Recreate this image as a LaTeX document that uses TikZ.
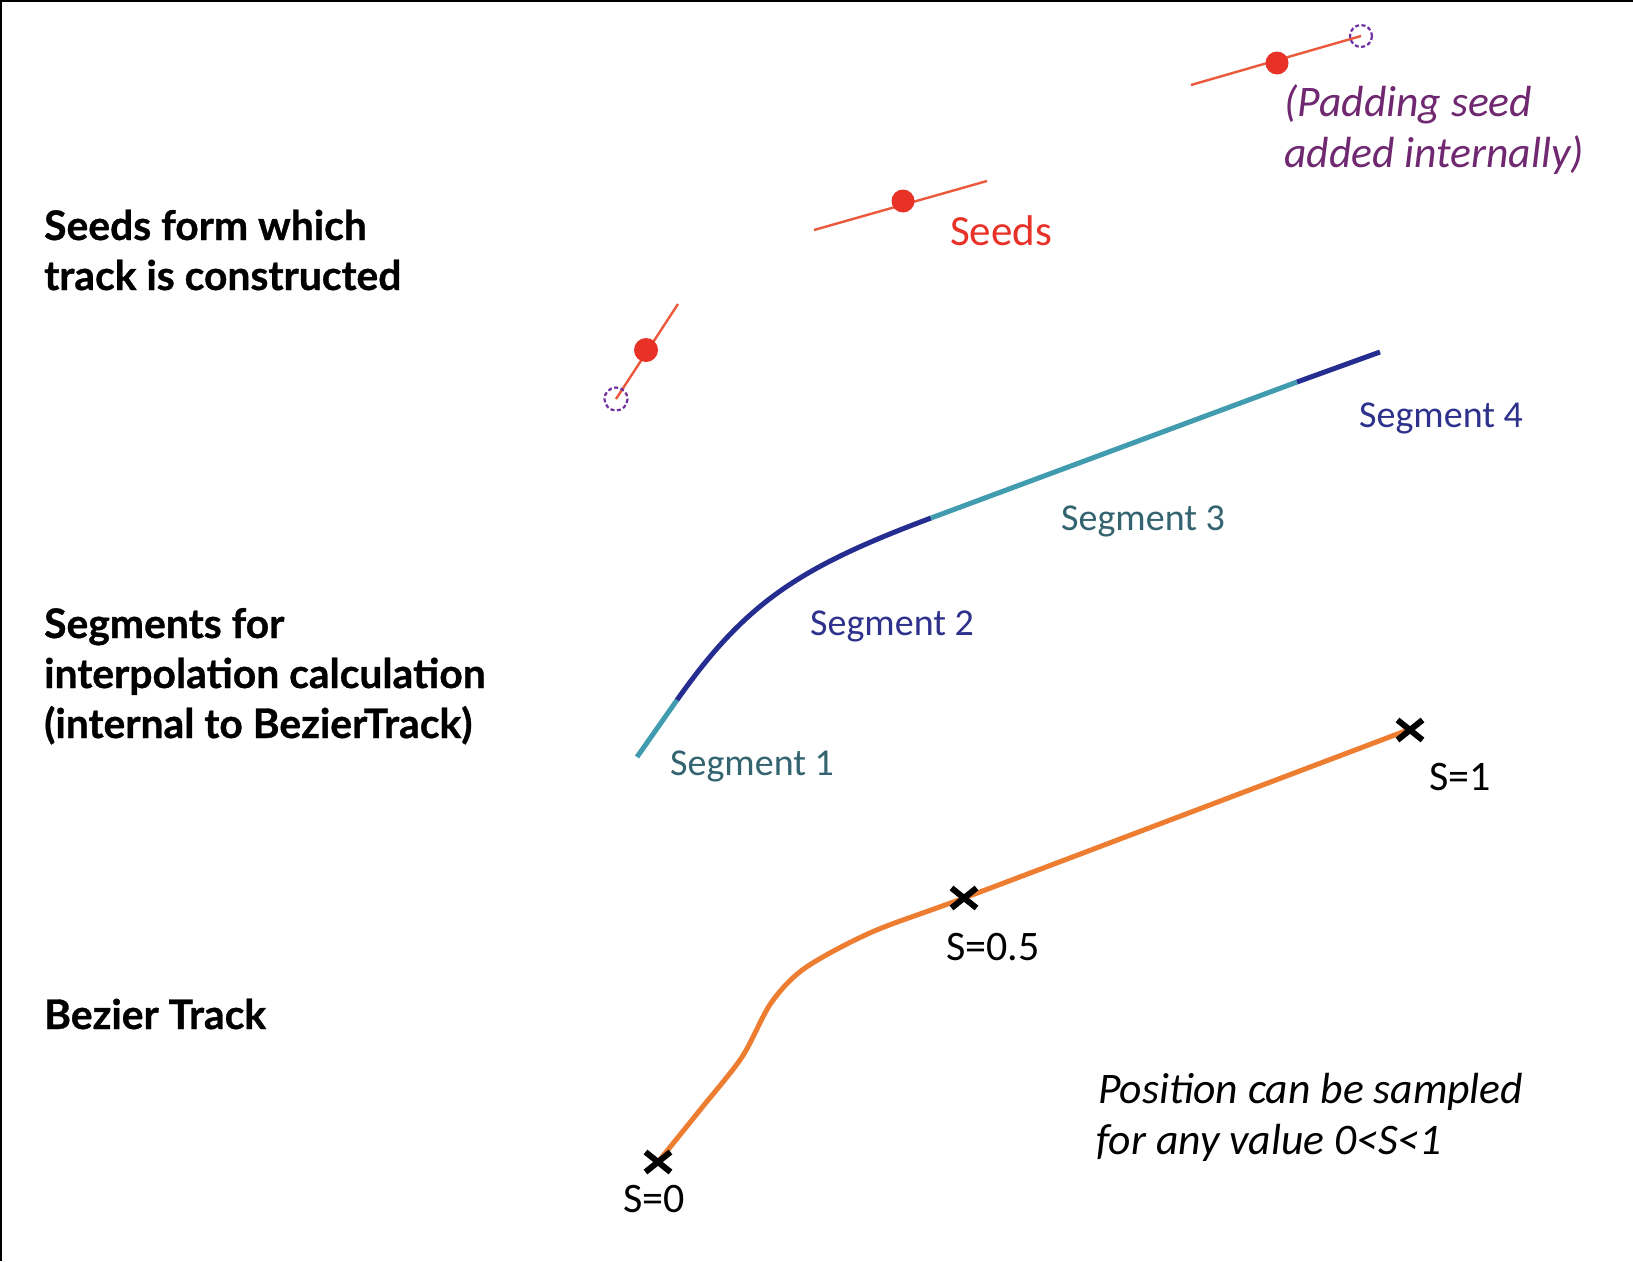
\documentclass[tikz,border=0pt]{standalone}
\usepackage{fontspec}
\setmainfont{Carlito}
\newfontfamily\labfont{Lato}[BoldFeatures={FakeBold=0.8}]
\usetikzlibrary{shapes.misc}
\definecolor{seedred}{RGB}{232,50,40}
\definecolor{seedline}{RGB}{236,88,60}
\definecolor{padpurple}{RGB}{112,48,160}
\definecolor{padtext}{RGB}{112,40,112}
\definecolor{segteal}{RGB}{66,156,176}
\definecolor{segnavy}{RGB}{38,45,145}
\definecolor{labteal}{RGB}{52,100,112}
\definecolor{labnavy}{RGB}{46,50,140}
\definecolor{trackorange}{RGB}{237,125,49}
\begin{document}
\begin{tikzpicture}[x=1pt,y=-1pt,
  lab/.style={anchor=base west, inner sep=0pt, font=\labfont\bfseries\fontsize{40.8}{49}\selectfont},
  seglab/.style={anchor=base west, inner sep=0pt, font=\fontsize{38}{46}\selectfont},
  slab/.style={anchor=base west, inner sep=0pt, font=\fontsize{42}{50}\selectfont},
  itlab/.style={anchor=base west, inner sep=0pt, font=\itshape\fontsize{43.6}{51}\selectfont},
  seedstick/.style={draw=seedline, line width=2.4pt},
  seeddot/.style={fill=seedred},
  padcircle/.style={draw=padpurple, line width=2.2pt, dash pattern=on 4pt off 2.5pt},
  segline/.style={line width=5pt},
  trackline/.style={draw=trackorange, line width=5pt},
  xmark/.style={cross out, draw=black, line width=6pt, minimum width=19pt, minimum height=14pt, inner sep=0pt}]
\useasboundingbox (0,0) rectangle (1633,1261);
\fill[white] (0,0) rectangle (1633,1261);
% frame (top and left)
\draw[line width=2.5pt] (1,1261) -- (1,1) -- (1633,1);

% left labels
\node[lab] (l1a) at (44,240) {Seeds form which};
\node[lab] (l1b) at (44,290) {track is constructed};
\node[lab] (l2a) at (44,638) {Segments for};
\node[lab] (l2b) at (44,688) {interpolation calculation};
\node[lab] (l2c) at (44,738) {(internal to BezierTrack)};
\node[lab] (l3) at (44,1029) {Bezier Track};

% seeds
\coordinate (sa1) at (678,304);
\coordinate (sa2) at (616,399);
\coordinate (sad) at (646,350);
\draw[seedstick] (sa1) -- (sa2);
\fill[seeddot] (sad) circle (12);
\draw[padcircle] (sa2) circle (11.5);

\coordinate (sb1) at (814,230);
\coordinate (sb2) at (987,181);
\coordinate (sbd) at (903,201);
\draw[seedstick] (sb1) -- (sb2);
\fill[seeddot] (sbd) circle (11.5);

\coordinate (sc1) at (1191,85);
\coordinate (sc2) at (1361,36);
\coordinate (scd) at (1277,63);
\draw[seedstick] (sc1) -- (sc2);
\fill[seeddot] (scd) circle (11.5);
\draw[padcircle] (sc2) circle (11);

\node[anchor=base west, inner sep=0pt, text=seedred, font=\fontsize{43}{51}\selectfont] (seeds) at (950,245) {Seeds};
\node[itlab, text=padtext] (pad1) at (1284,116) {(Padding seed};
\node[itlab, text=padtext] (pad2) at (1284,167) {added internally)};

% segments
\coordinate (g0) at (637,757);
\coordinate (g1) at (677,700);
\coordinate (g2) at (931,518);
\coordinate (g3) at (1297,382);
\coordinate (g4) at (1380,352);
\draw[segline, segteal] (g0) -- (g1);
\draw[segline, segnavy] (g1) .. controls (746,602) and (800,567) .. (g2);
\draw[segline, segteal] (g2) -- (g3);
\draw[segline, segnavy] (g3) -- (g4);

\node[seglab, text=labteal] (seg1) at (670,775) {Segment 1};
\node[seglab, text=labnavy] (seg2) at (810,635) {Segment 2};
\node[seglab, text=labteal] (seg3) at (1061,530) {Segment 3};
\node[seglab, text=labnavy] (seg4) at (1359,427) {Segment 4};

% bezier track
\draw[trackline] plot[smooth, tension=0.5] coordinates {(658,1162) (700,1110) (742,1057) (771,1003) (805,968) (872,932) (964,898) (1186,814) (1408,730)};
\node[xmark] (s0) at (658,1162) {};
\node[xmark] (s05) at (964,898) {};
\node[xmark] (s1) at (1410,730) {};

\node[slab] (t0) at (623,1212) {S=0};
\node[slab] (t05) at (946,960) {S=0.5};
\node[slab] (t1) at (1429,790) {S=1};

\node[itlab] (pos1) at (1098,1103) {Position can be sampled};
\node[itlab] (pos2) at (1096,1154) {for any value 0<S<1};
\end{tikzpicture}
\end{document}
